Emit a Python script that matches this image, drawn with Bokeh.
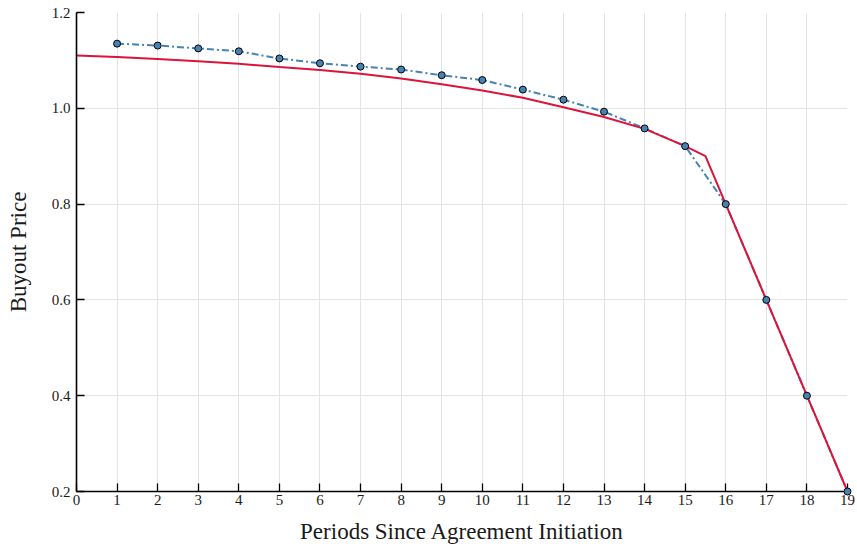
from bokeh.plotting import figure
from bokeh.models import FixedTicker, Range1d
from bokeh.embed import file_html
from bokeh.resources import INLINE

# Observed buyout prices (blue points)
periods = list(range(1, 20))
observed = [1.135, 1.131, 1.125, 1.119, 1.104, 1.094, 1.087, 1.081, 1.069, 1.059,
            1.039, 1.018, 0.993, 0.958, 0.921, 0.800, 0.600, 0.400, 0.200]

# Model buyout price curve (red)
model_x = [0, 1, 2, 3, 4, 5, 6, 7, 8, 9, 10, 11, 12, 13, 14, 15, 15.5, 16, 17, 18, 19]
model_y = [1.110, 1.107, 1.103, 1.098, 1.093, 1.086, 1.080, 1.072, 1.062, 1.050,
           1.037, 1.022, 1.002, 0.982, 0.957, 0.921, 0.900, 0.800, 0.600, 0.400, 0.200]

x_ticks = list(range(0, 20))
y_ticks = [0.2, 0.4, 0.6, 0.8, 1.0, 1.2]
y_tick_labels = ["0.2", "0.4", "0.6", "0.8", "1.0", "1.2"]

FONT = "Liberation Serif"
TXT = "#1a1a1a"

p = figure(width=857, height=546, output_backend="svg", toolbar_location=None,
           x_range=Range1d(0, 19), y_range=Range1d(0.2, 1.2),
           min_border_left=76, min_border_right=10, min_border_top=12, min_border_bottom=55)
p.outline_line_color = None
p.background_fill_color = "white"
p.border_fill_color = "white"

p.line(periods, observed, line_color="#4682b4", line_width=2, line_dash="7 3 2 3")
p.line(model_x, model_y, line_color="#dc143c", line_width=2)
pts = p.scatter(periods, observed, size=7, fill_color="#4682b4", line_color="black", line_width=1)
pts.level = "overlay"

for ax in (p.xaxis[0], p.yaxis[0]):
    ax.axis_line_color = "black"
    ax.axis_line_width = 1.6
    ax.major_tick_in = 8
    ax.major_tick_out = 0
    ax.minor_tick_in = 0
    ax.minor_tick_out = 0
    ax.major_tick_line_color = "black"
    ax.major_tick_line_width = 1.3
    ax.major_label_text_font = FONT
    ax.major_label_text_font_size = "15px"
    ax.major_label_text_color = TXT
    ax.axis_label_text_font = FONT
    ax.axis_label_text_font_size = "23px"
    ax.axis_label_text_font_style = "normal"
    ax.axis_label_text_color = TXT

p.xaxis.ticker = FixedTicker(ticks=x_ticks)
p.yaxis.ticker = FixedTicker(ticks=y_ticks)
p.yaxis.major_label_overrides = {t: l for t, l in zip(y_ticks, y_tick_labels)}
p.xaxis.axis_label = "Periods Since Agreement Initiation"
p.yaxis.axis_label = "Buyout Price"
p.xaxis.major_label_standoff = 3
p.yaxis.major_label_standoff = 6
p.xaxis.axis_label_standoff = 11
p.yaxis.axis_label_standoff = 18

p.grid.grid_line_color = "#e3e3e3"
p.grid.grid_line_width = 1

open("out.html", "w").write(file_html(p, INLINE))
